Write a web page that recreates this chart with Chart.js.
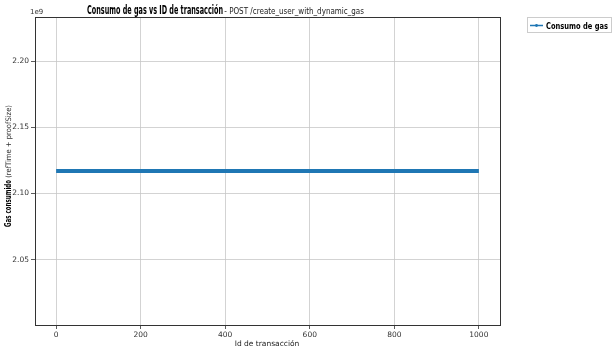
<!DOCTYPE html>
<html><head><meta charset="utf-8">
<script src="https://cdn.jsdelivr.net/npm/chart.js@4/dist/chart.umd.min.js"></script>
<style>html,body{margin:0;padding:0;background:#fff}#wrap{width:615px;height:351px}</style>
</head><body><div id="wrap"><canvas id="c" width="615" height="351"></canvas></div>
<script>
const transactionIds = [0,20,40,60,80,100,120,140,160,180,200,220,240,260,280,300,320,340,360,380,400,420,440,460,480,500,520,540,560,580,600,620,640,660,680,700,720,740,760,780,800,820,840,860,880,900,920,940,960,980,1000];
const gasConsumed = [2117000000,2117000000,2117000000,2117000000,2117000000,2117000000,2117000000,2117000000,2117000000,2117000000,2117000000,2117000000,2117000000,2117000000,2117000000,2117000000,2117000000,2117000000,2117000000,2117000000,2117000000,2117000000,2117000000,2117000000,2117000000,2117000000,2117000000,2117000000,2117000000,2117000000,2117000000,2117000000,2117000000,2117000000,2117000000,2117000000,2117000000,2117000000,2117000000,2117000000,2117000000,2117000000,2117000000,2117000000,2117000000,2117000000,2117000000,2117000000,2117000000,2117000000,2117000000];
const xTicks = [0,200,400,600,800,1000];
const xTickLabels = ['0','200','400','600','800','1000'];
const yTicks = [2050000000,2100000000,2150000000,2200000000];
const yTickLabels = ['2.05','2.10','2.15','2.20'];
const titleBold = 'Consumo de gas vs ID de transacción';
const titleNormal = ' - POST /create_user_with_dynamic_gas';
const yTitleBold = 'Gas consumido';
const yTitleNormal = ' (refTime + proofSize)';
const xTitle = 'Id de transacción';
const seriesLabel = 'Consumo de gas';

const FONT = '"DejaVu Sans", sans-serif';
const FONTC = '"DejaVu Sans Condensed", "DejaVu Sans", sans-serif';
function fitText(ctx, txt, x, y, w) {
  const m = ctx.measureText(txt).width;
  ctx.save(); ctx.translate(x, y); ctx.scale(w / m, 1); ctx.fillText(txt, 0, 0); ctx.restore();
}
const decor = {
  id: 'decor',
  afterDraw(chart) {
    const ctx = chart.ctx, a = chart.chartArea;
    ctx.save();
    ctx.strokeStyle = '#333'; ctx.lineWidth = 1;
    ctx.strokeRect(Math.round(a.left) + 0.5, Math.round(a.top) + 0.5, Math.round(a.right - a.left), Math.round(a.bottom - a.top));
    ctx.fillStyle = '#000'; ctx.textBaseline = 'alphabetic'; ctx.textAlign = 'left';
    ctx.font = 'bold 12px ' + FONTC; fitText(ctx, titleBold, 87, 14, 136);
    ctx.font = '9px ' + FONT; ctx.fillStyle = '#222'; fitText(ctx, titleNormal, 222, 14, 142);
    ctx.fillStyle = '#333'; ctx.font = '7px ' + FONT; ctx.fillText('1e9', 30, 14);
    ctx.save(); ctx.translate(11, 227); ctx.rotate(-Math.PI / 2);
    ctx.fillStyle = '#000'; ctx.font = 'bold 9px ' + FONTC; fitText(ctx, yTitleBold, 0, 0, 47);
    ctx.fillStyle = '#333'; ctx.font = '7.5px ' + FONT; fitText(ctx, yTitleNormal, 47, 0, 75);
    ctx.restore();
    ctx.fillStyle = '#222'; ctx.font = '7.5px ' + FONT; ctx.textAlign = 'center';
    ctx.fillText(xTitle, 267, 346);
    ctx.fillStyle = '#fff'; ctx.strokeStyle = '#ccc'; ctx.lineWidth = 1;
    ctx.fillRect(527, 17, 85, 16); ctx.strokeRect(527.5, 17.5, 84, 15);
    ctx.strokeStyle = '#1f77b4'; ctx.lineWidth = 1.5;
    ctx.beginPath(); ctx.moveTo(530, 25.5); ctx.lineTo(543, 25.5); ctx.stroke();
    ctx.fillStyle = '#1f77b4'; ctx.beginPath(); ctx.arc(536.5, 25.5, 1.4, 0, Math.PI * 2); ctx.fill();
    ctx.fillStyle = '#000'; ctx.textAlign = 'left'; ctx.font = 'bold 9px ' + FONTC;
    fitText(ctx, seriesLabel, 546, 29, 62);
    ctx.restore();
  }
};
new Chart(document.getElementById('c'), {
  type: 'line',
  data: { datasets: [{ label: seriesLabel, data: transactionIds.map((x, i) => ({ x, y: gasConsumed[i] })),
    borderColor: '#1f77b4', backgroundColor: '#1f77b4', borderWidth: 4, pointRadius: 0, tension: 0 }] },
  options: {
    responsive: false, animation: false, devicePixelRatio: 1,
    layout: { padding: { left: 0, right: 115, top: 17, bottom: 0 } },
    plugins: { legend: { display: false }, title: { display: false }, tooltip: { enabled: false } },
    scales: {
      x: { type: 'linear', min: -50, max: 1050,
        afterBuildTicks: s => { s.ticks = xTicks.map(v => ({ value: v })); },
        afterFit: s => { s.height = 26; },
        grid: { color: '#c8c8c8', lineWidth: 0.8, tickColor: '#333', tickLength: 4 },
        border: { color: '#333', width: 1 },
        ticks: { color: '#333', font: { family: FONT, size: 7.5 }, padding: 2, maxRotation: 0,
          callback: (v) => { const i = xTicks.indexOf(v); return i >= 0 ? xTickLabels[i] : ''; } } },
      y: { type: 'linear', min: 2000500000, max: 2233500000,
        afterBuildTicks: s => { s.ticks = yTicks.map(v => ({ value: v })); },
        afterFit: s => { s.width = 35; },
        grid: { color: '#c8c8c8', lineWidth: 0.8, tickColor: '#333', tickLength: 4 },
        border: { color: '#333', width: 1 },
        ticks: { color: '#333', font: { family: FONT, size: 7.5 }, padding: 2,
          callback: (v) => { const i = yTicks.indexOf(v); return i >= 0 ? yTickLabels[i] : ''; } } }
    }
  },
  plugins: [decor]
});
</script></body></html>
